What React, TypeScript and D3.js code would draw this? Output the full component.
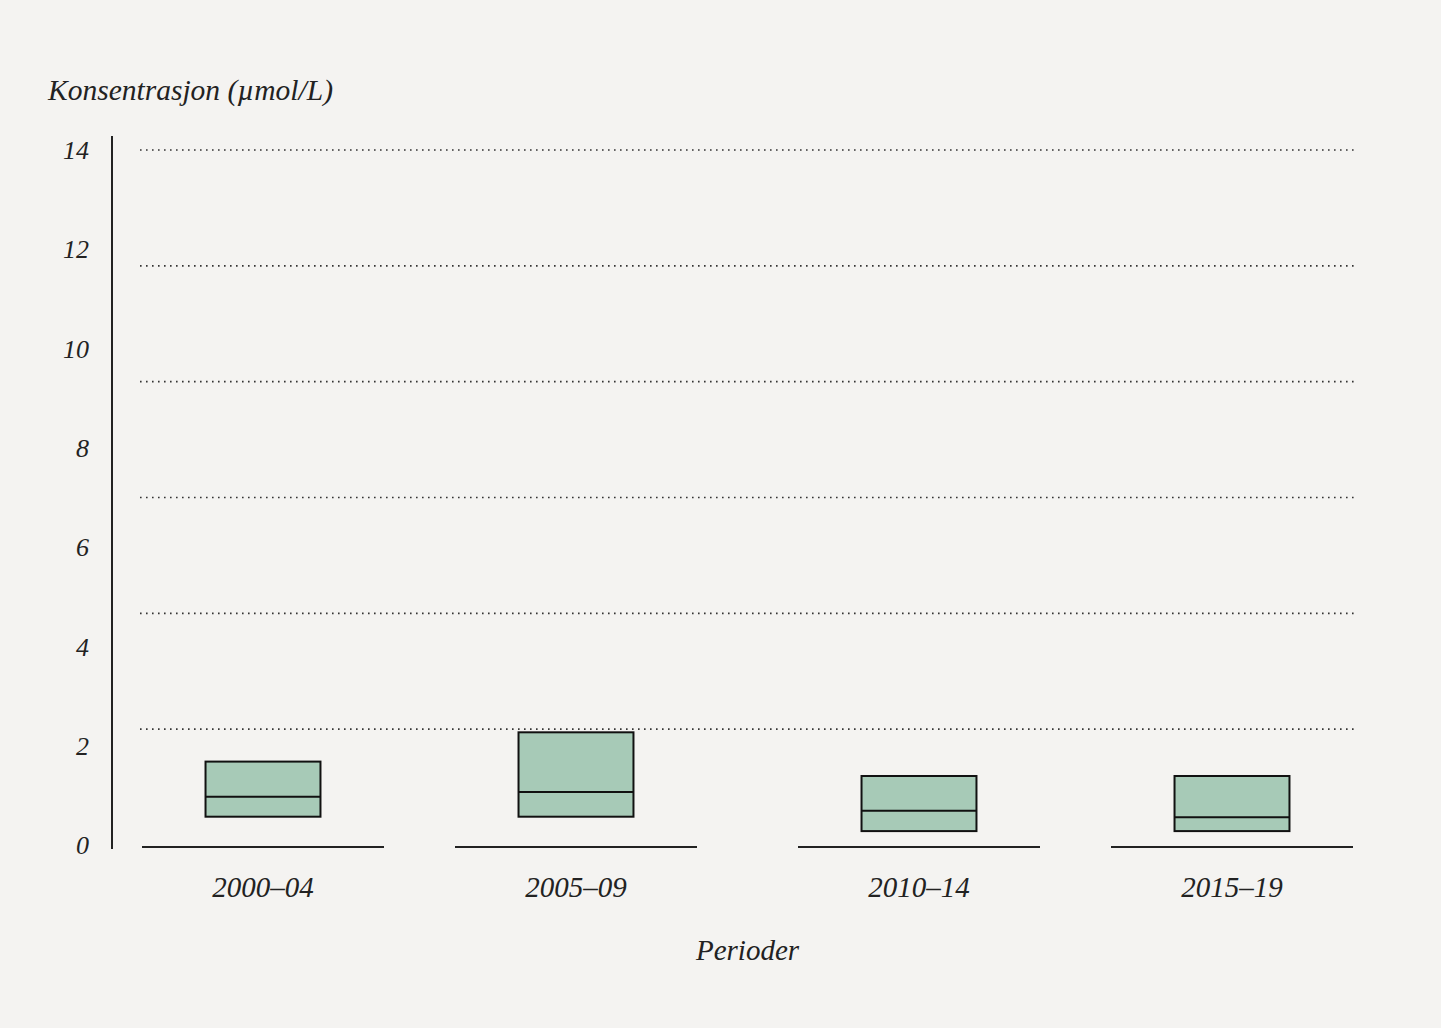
import * as d3 from 'd3'
import { useEffect, useRef } from 'react'

// periods on the x axis
const periods = ['2000–04', '2005–09', '2010–14', '2015–19']
// box statistics per period (µmol/L)
const lower = [0.57, 0.57, 0.28, 0.28]
const median = [0.97, 1.07, 0.69, 0.56]
const upper = [1.68, 2.27, 1.39, 1.39]
const yTicks = [0, 2, 4, 6, 8, 10, 12, 14]
const gridSteps = 6

const fontFamily = '"Liberation Serif", "DejaVu Serif", serif'

export default function App() {
  const ref = useRef<HTMLDivElement | null>(null)

  useEffect(() => {
    document.body.style.margin = '0'
    document.body.style.background = '#f4f3f1'

    const width = 1441
    const height = 1028
    const left = 142
    const right = 1353
    const extraGap = 30 // wider separation between the two halves
    const y0 = 845
    const yTop = 150

    const svg = d3
      .create('svg')
      .attr('width', width)
      .attr('height', height)
      .attr('viewBox', [0, 0, width, height])
      .style('display', 'block')
      .style('font-family', fontFamily)

    svg.append('rect').attr('width', width).attr('height', height).attr('fill', '#f4f3f1')

    const x = d3
      .scaleBand()
      .domain(periods)
      .range([left, right - extraGap])
      .paddingInner(71 / 313)
    const xPos = (p: string) => x(p)! + (periods.indexOf(p) >= 2 ? extraGap : 0)

    const y = d3.scaleLinear().domain([0, 14]).range([y0, yTop])

    // dotted gridlines (every 14/6 units)
    const gridVals = d3.range(1, gridSteps + 1).map((i) => (14 * i) / gridSteps)
    svg
      .append('g')
      .selectAll('line')
      .data(gridVals)
      .join('line')
      .attr('x1', 140)
      .attr('x2', 1355)
      .attr('y1', (d) => y(d))
      .attr('y2', (d) => y(d))
      .attr('stroke', '#333')
      .attr('stroke-width', 1.6)
      .attr('stroke-dasharray', '1.6,4.4')

    // y axis line
    svg
      .append('line')
      .attr('x1', 112)
      .attr('x2', 112)
      .attr('y1', 136)
      .attr('y2', y0 + 4)
      .attr('stroke', '#222')
      .attr('stroke-width', 2)

    // y tick labels
    svg
      .append('g')
      .selectAll('text')
      .data(yTicks)
      .join('text')
      .attr('x', 89)
      .attr('y', (d) => y(d))
      .attr('dy', '0.35em')
      .attr('text-anchor', 'end')
      .attr('font-size', 26)
      .attr('font-style', 'italic')
      .attr('fill', '#222')
      .text((d) => d)

    // baseline under each period
    svg
      .append('g')
      .selectAll('line')
      .data(periods)
      .join('line')
      .attr('x1', (d) => xPos(d))
      .attr('x2', (d) => xPos(d) + x.bandwidth())
      .attr('y1', y0 + 2)
      .attr('y2', y0 + 2)
      .attr('stroke', '#222')
      .attr('stroke-width', 2)

    // boxes
    const boxW = x.bandwidth() * 0.475
    const boxes = svg
      .append('g')
      .selectAll('g')
      .data(periods)
      .join('g')
      .attr('transform', (d) => `translate(${xPos(d) + x.bandwidth() / 2},0)`)

    boxes
      .append('rect')
      .attr('x', -boxW / 2)
      .attr('y', (_, i) => y(upper[i]))
      .attr('width', boxW)
      .attr('height', (_, i) => y(lower[i]) - y(upper[i]))
      .attr('fill', '#a7cab7')
      .attr('stroke', '#111')
      .attr('stroke-width', 2)

    boxes
      .append('line')
      .attr('x1', -boxW / 2)
      .attr('x2', boxW / 2)
      .attr('y1', (_, i) => y(median[i]))
      .attr('y2', (_, i) => y(median[i]))
      .attr('stroke', '#111')
      .attr('stroke-width', 2)

    // period labels
    boxes
      .append('text')
      .attr('y', 887)
      .attr('dy', '0.35em')
      .attr('text-anchor', 'middle')
      .attr('font-size', 29)
      .attr('font-style', 'italic')
      .attr('fill', '#222')
      .text((d) => d)

    // axis titles
    svg
      .append('text')
      .attr('x', 48)
      .attr('y', 90)
      .attr('dy', '0.35em')
      .attr('font-size', 29.5)
      .attr('font-style', 'italic')
      .attr('fill', '#222')
      .text('Konsentrasjon (µmol/L)')

    svg
      .append('text')
      .attr('x', (left + right) / 2)
      .attr('y', 950)
      .attr('dy', '0.35em')
      .attr('text-anchor', 'middle')
      .attr('font-size', 29)
      .attr('font-style', 'italic')
      .attr('fill', '#222')
      .text('Perioder')

    if (ref.current) {
      ref.current.innerHTML = ''
      ref.current.appendChild(svg.node()!)
    }
  }, [])

  return <div ref={ref} />
}
